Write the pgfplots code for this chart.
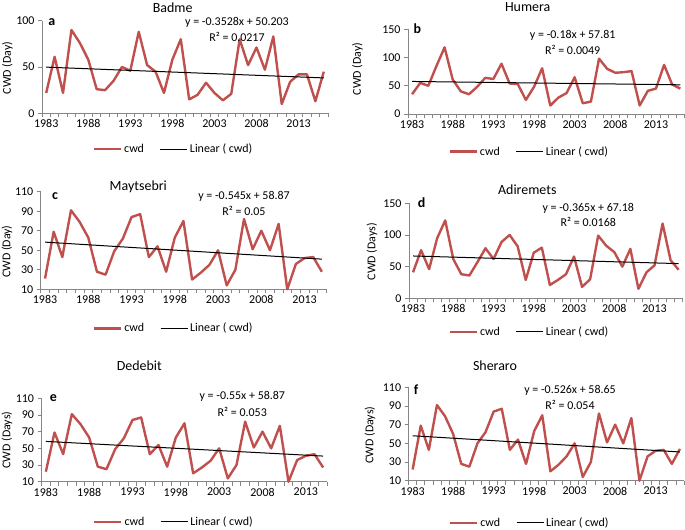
\documentclass[border=0pt]{standalone}
\usepackage{fontspec}
\setmainfont{Carlito}
\usepackage{pgfplots}
\pgfplotsset{compat=1.18}
\definecolor{cwdred}{RGB}{192,80,77}
\definecolor{axgray}{RGB}{134,134,134}
\pgfplotsset{
  cwd/.style={
    scale only axis,
    clip=false,
    axis x line*=bottom, axis y line*=left,
    axis line style={axgray, line width=0.8bp},
    tick style={axgray, line width=0.8bp},
    tick align=outside,
    major tick length=4bp,
    xmin=1982.5,
    xtick={1982.5,1983.5,...,2016.5},
    xticklabels={},
    extra x ticks={1983,1988,1993,1998,2003,2008,2013},
    extra x tick labels={1983,1988,1993,1998,2003,2008,2013},
    extra x tick style={major tick length=0pt},
    /pgf/number format/assume math mode=true,
    every tick label/.append style={font=\fontsize{12}{14}\selectfont, text=black},
    xticklabel style={yshift=-3bp},
    legend columns=2,
    legend image code/.code={\draw[##1] (0bp,0bp) -- (27bp,0bp);},
    legend style={draw=none, fill=none, anchor=center, inner sep=0pt,
      font=\fontsize{12}{14}\selectfont,
      /tikz/every even column/.append style={column sep=14bp}},
  },
  cwdline/.style={cwdred, line width=2.4bp, line join=round},
  trend/.style={black, line width=1bp},
}
\newcommand{\ttl}[3]{\node[font=\fontsize{14}{16}\selectfont] at (#1bp,{530bp-#2bp}) {#3};}
\newcommand{\lett}[3]{\node[font=\fontsize{14}{16}\selectfont\bfseries] at (#1bp,{530bp-#2bp}) {#3};}
\newcommand{\txt}[3]{\node[font=\fontsize{12}{14}\selectfont] at (#1bp,{530bp-#2bp}) {#3};}
\newcommand{\ylab}[3]{\node[rotate=90,font=\fontsize{12}{14}\selectfont] at (#1bp,{530bp-#2bp}) {#3};}
\begin{document}
\begin{tikzpicture}
\useasboundingbox (0,0) rectangle (685bp,530bp);
% ---------- a Badme ----------
\begin{axis}[cwd, at={(42bp,416.7bp)}, anchor=south west, width=286bp, height=92.6bp,
  xmax=2016.5, ymin=0, ymax=100, ytick={0,50,100},
  legend style={at={(0.46,-0.386)}}]
\addplot[cwdline] coordinates {(1983,22) (1984,61) (1985,22) (1986,90) (1987,76) (1988,58) (1989,26) (1990,25) (1991,35) (1992,50) (1993,46) (1994,88) (1995,52) (1996,45) (1997,22) (1998,58) (1999,80) (2000,15) (2001,20) (2002,33) (2003,22) (2004,14) (2005,21) (2006,80) (2007,52) (2008,71) (2009,47) (2010,83) (2011,10) (2012,34) (2013,42) (2014,42) (2015,13) (2016,45)};
\addlegendentry{cwd}
\addplot[trend] coordinates {(1983,49.85) (2016,38.21)};
\addlegendentry{Linear ( cwd)}
\end{axis}
% ---------- b Humera ----------
\begin{axis}[cwd, at={(408bp,416bp)}, anchor=south west, width=276.4bp, height=84.7bp,
  xmax=2016.5, ymin=0, ymax=150, ytick={0,50,100,150},
  legend style={at={(0.439,-0.445)}}]
\addplot[cwdline] coordinates {(1983,35) (1984,55) (1985,50) (1986,85) (1987,118) (1988,61) (1989,40) (1990,35) (1991,48) (1992,64) (1993,62) (1994,89) (1995,54) (1996,53) (1997,25) (1998,48) (1999,81) (2000,15) (2001,29) (2002,37) (2003,65) (2004,19) (2005,22) (2006,98) (2007,80) (2008,73) (2009,74) (2010,76) (2011,15) (2012,41) (2013,45) (2014,87) (2015,52) (2016,45)};
\addlegendentry{cwd}
\addplot[trend] coordinates {(1983,57.63) (2016,51.69)};
\addlegendentry{Linear ( cwd)}
\end{axis}
% ---------- c Maytsebri ----------
\begin{axis}[cwd, at={(40.7bp,240.7bp)}, anchor=south west, width=285.5bp, height=97.6bp,
  xmax=2015.5, xtick={1982.5,1983.5,...,2015.5}, ymin=10, ymax=110, ytick={10,30,...,110},
  legend style={at={(0.466,-0.40)}}]
\addplot[cwdline] coordinates {(1983,21) (1984,69) (1985,43) (1986,91) (1987,79) (1988,63) (1989,28) (1990,25) (1991,49) (1992,62) (1993,84) (1994,87) (1995,43) (1996,54) (1997,28) (1998,63) (1999,80) (2000,20) (2001,27) (2002,35) (2003,50) (2004,14) (2005,30) (2006,82) (2007,51) (2008,70) (2009,50) (2010,77) (2011,10) (2012,36) (2013,42) (2014,43) (2015,28)};
\addlegendentry{cwd}
\addplot[trend] coordinates {(1983,58.33) (2015,40.89)};
\addlegendentry{Linear ( cwd)}
\end{axis}
% ---------- d Adiremets ----------
\begin{axis}[cwd, at={(409bp,231.7bp)}, anchor=south west, width=273.7bp, height=95bp,
  xmax=2016.5, ymin=0, ymax=150, ytick={0,50,100,150},
  legend style={at={(0.44,-0.352)}}]
\addplot[cwdline] coordinates {(1983,41) (1984,76) (1985,46) (1986,95) (1987,123) (1988,62) (1989,38) (1990,36) (1991,57) (1992,79) (1993,62) (1994,89) (1995,100) (1996,82) (1997,29) (1998,72) (1999,80) (2000,21) (2001,29) (2002,38) (2003,66) (2004,18) (2005,30) (2006,99) (2007,83) (2008,73) (2009,50) (2010,78) (2011,15) (2012,41) (2013,52) (2014,118) (2015,60) (2016,45)};
\addlegendentry{cwd}
\addplot[trend] coordinates {(1983,66.82) (2016,54.77)};
\addlegendentry{Linear ( cwd)}
\end{axis}
% ---------- e Dedebit ----------
\begin{axis}[cwd, at={(41.5bp,48.3bp)}, anchor=south west, width=286bp, height=83.4bp,
  xmax=2015.5, xtick={1982.5,1983.5,...,2015.5}, ymin=10, ymax=110, ytick={10,30,...,110},
  legend style={at={(0.463,-0.48)}}]
\addplot[cwdline] coordinates {(1983,22) (1984,69) (1985,43) (1986,91) (1987,79) (1988,63) (1989,28) (1990,25) (1991,49) (1992,62) (1993,84) (1994,87) (1995,43) (1996,54) (1997,28) (1998,63) (1999,80) (2000,20) (2001,27) (2002,35) (2003,50) (2004,14) (2005,30) (2006,82) (2007,51) (2008,70) (2009,50) (2010,77) (2011,10) (2012,36) (2013,41) (2014,43) (2015,27)};
\addlegendentry{cwd}
\addplot[trend] coordinates {(1983,58.32) (2015,40.72)};
\addlegendentry{Linear ( cwd)}
\end{axis}
% ---------- f Sheraro ----------
\begin{axis}[cwd, at={(408.6bp,49.3bp)}, anchor=south west, width=275.4bp, height=93.4bp,
  xmax=2016.5, ymin=10, ymax=110, ytick={10,30,...,110},
  legend style={at={(0.44,-0.45)}}]
\addplot[cwdline] coordinates {(1983,22) (1984,69) (1985,43) (1986,91) (1987,79) (1988,60) (1989,28) (1990,25) (1991,50) (1992,62) (1993,84) (1994,87) (1995,43) (1996,54) (1997,28) (1998,63) (1999,80) (2000,20) (2001,27) (2002,36) (2003,50) (2004,14) (2005,30) (2006,82) (2007,51) (2008,70) (2009,50) (2010,77) (2011,10) (2012,36) (2013,42) (2014,43) (2015,28) (2016,44)};
\addlegendentry{cwd}
\addplot[trend] coordinates {(1983,58.12) (2016,40.77)};
\addlegendentry{Linear ( cwd)}
\end{axis}
% ---------- titles, letters, equations, y labels ----------
\ttl{172.7}{7.3}{Badme}
\ttl{527.7}{7.3}{Humera}
\ttl{138.3}{186.7}{Maytsebri}
\ttl{527.3}{190}{Adiremets}
\ttl{139.3}{365.7}{Dedebit}
\ttl{495}{366}{Sheraro}
\lett{51.7}{21.7}{a}
\lett{417.3}{28.3}{b}
\lett{55}{195.7}{c}
\lett{421.7}{202.3}{d}
\lett{53.3}{397.7}{e}
\lett{416}{390}{f}
\txt{237}{22}{y = -0.3528x + 50.203}
\txt{237}{37}{R² = 0.0217}
\txt{572.7}{35}{y = -0.18x + 57.81}
\txt{572.7}{50}{R² = 0.0049}
\txt{244}{196.7}{y = -0.545x + 58.87}
\txt{244}{210.5}{R² = 0.05}
\txt{588.3}{208.3}{y = -0.365x + 67.18}
\txt{588.3}{222.3}{R² = 0.0168}
\txt{242.3}{396.7}{y = -0.55x + 58.87}
\txt{242.3}{411.7}{R² = 0.053}
\txt{570}{390.7}{y = -0.526x + 58.65}
\txt{570}{405}{R² = 0.054}
\ylab{7.5}{68}{CWD (Day)}
\ylab{357.5}{69}{CWD (Day)}
\ylab{7}{251.7}{CWD (Day)}
\ylab{372}{251.7}{CWD (Days)}
\ylab{7}{440}{CWD (Days)}
\ylab{370}{435}{CWD (Days)}
\end{tikzpicture}
\end{document}
